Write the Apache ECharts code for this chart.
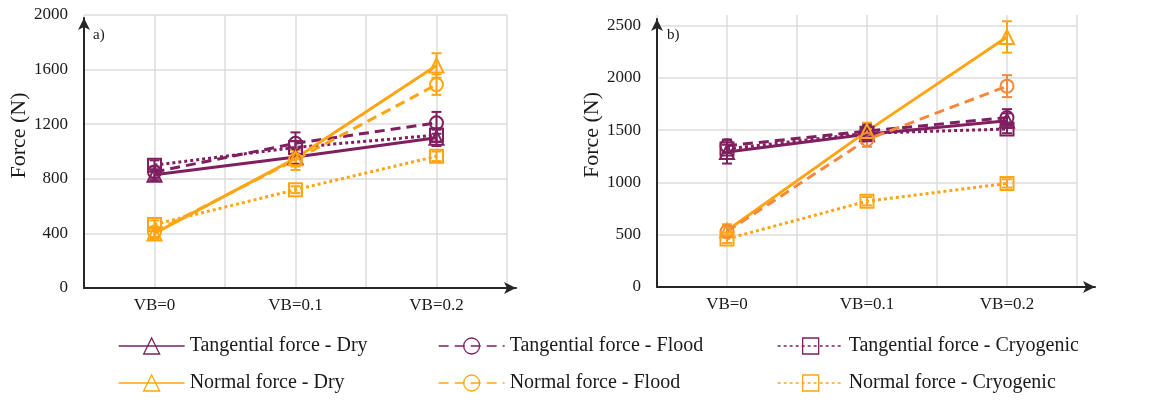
<!DOCTYPE html>
<html>
<head>
<meta charset="utf-8">
<script src="https://cdn.jsdelivr.net/npm/echarts@6/dist/echarts.min.js"></script>
<style>
  html, body { margin: 0; padding: 0; background: #fff; }
  #chart { width: 1162px; height: 401px; }
</style>
</head>
<body>
<div id="chart"></div>
<script>
// Flank-wear stages shown on the horizontal axis
const categories = ['VB=0', 'VB=0.1', 'VB=0.2'];

// Panel a) mean forces (N) and their standard deviations
const tDryA = [830, 960, 1100],   tDryErrA = [40, 50, 60];
const tFloodA = [850, 1060, 1210], tFloodErrA = [40, 80, 80];
const tCryoA = [900, 1030, 1120], tCryoErrA = [35, 45, 50];
const nDryA = [400, 950, 1630],   nDryErrA = [40, 60, 90];
const nFloodA = [410, 940, 1490], nFloodErrA = [35, 75, 75];
const nCryoA = [465, 720, 965],   nCryoErrA = [30, 25, 35];

// Panel b) mean forces (N) and their standard deviations
const tDryB = [1290, 1460, 1590],  tDryErrB = [110, 60, 70];
const tFloodB = [1350, 1490, 1620], tFloodErrB = [60, 70, 80];
const tCryoB = [1320, 1470, 1510], tCryoErrB = [40, 40, 40];
const nDryB = [540, 1490, 2390],   nDryErrB = [60, 80, 150];
const nFloodB = [530, 1410, 1920], nFloodErrB = [50, 70, 105];
const nCryoB = [460, 820, 990],    nCryoErrB = [40, 40, 40];

// Y-axis tick settings per panel
const yTicksA = { min: 0, max: 2000, interval: 400 };
const yTicksB = { min: 0, max: 2600, interval: 500, lastLabel: 2500 };

const PURPLE = '#7f1f5f';
const ORANGE = '#ffa514';
const ORANGE_FLOOD_B = '#f5893b';
const FONT = "'Liberation Serif', 'Times New Roman', serif";
const GRID_COLOR = '#dcdcdc';
const AXIS_COLOR = '#262626';

const DASH = [10, 6];
const DOT = [3, 3];

const names = {
  tDry: 'Tangential force - Dry',
  tFlood: 'Tangential force - Flood',
  tCryo: 'Tangential force - Cryogenic',
  nDry: 'Normal force - Dry',
  nFlood: 'Normal force - Flood',
  nCryo: 'Normal force - Cryogenic'
};

function toPoints(values) {
  return values.map((v, i) => [i, v]);
}
function toErrors(values, errs) {
  return values.map((v, i) => [i, v, errs[i]]);
}

function lineSeries(name, values, gridAxis, color, symbol, dash) {
  return {
    name: name,
    type: 'line',
    xAxisIndex: gridAxis,
    yAxisIndex: gridAxis,
    data: toPoints(values),
    symbol: symbol,
    symbolSize: symbol === 'triangle' ? [14, 14] : 13,
    showAllSymbol: true,
    lineStyle: { color: color, width: 3, type: dash || 'solid', cap: 'butt' },
    itemStyle: { color: 'rgba(0,0,0,0)', borderColor: color, borderWidth: 2 },
    emphasis: { disabled: true },
    z: 3
  };
}

function errorSeries(name, values, errs, gridAxis, color) {
  return {
    name: name,
    type: 'custom',
    xAxisIndex: gridAxis,
    yAxisIndex: gridAxis,
    data: toErrors(values, errs),
    z: 2,
    silent: true,
    renderItem: function (params, api) {
      const x = api.value(0), y = api.value(1), e = api.value(2);
      const hi = api.coord([x, y + e]);
      const lo = api.coord([x, y - e]);
      const half = 5;
      const style = { stroke: color, lineWidth: 2, fill: null };
      return {
        type: 'group',
        children: [
          { type: 'line', shape: { x1: hi[0], y1: hi[1], x2: lo[0], y2: lo[1] }, style: style },
          { type: 'line', shape: { x1: hi[0] - half, y1: hi[1], x2: hi[0] + half, y2: hi[1] }, style: style },
          { type: 'line', shape: { x1: lo[0] - half, y1: lo[1], x2: lo[0] + half, y2: lo[1] }, style: style }
        ]
      };
    }
  };
}

function panelSeries(gridAxis, d, floodOrange) {
  const list = [
    [names.tDry, d.tDry, d.tDryErr, PURPLE, 'triangle', null],
    [names.tFlood, d.tFlood, d.tFloodErr, PURPLE, 'circle', DASH],
    [names.tCryo, d.tCryo, d.tCryoErr, PURPLE, 'rect', DOT],
    [names.nDry, d.nDry, d.nDryErr, ORANGE, 'triangle', null],
    [names.nFlood, d.nFlood, d.nFloodErr, floodOrange, 'circle', DASH],
    [names.nCryo, d.nCryo, d.nCryoErr, ORANGE, 'rect', DOT]
  ];
  const lines = list.map(s => lineSeries(s[0], s[1], gridAxis, s[3], s[4], s[5]));
  const bars = list.map(s => errorSeries(s[0], s[1], s[2], gridAxis, s[3]));
  return { lines: lines, bars: bars };
}

const seriesA = panelSeries(0, {
  tDry: tDryA, tDryErr: tDryErrA, tFlood: tFloodA, tFloodErr: tFloodErrA,
  tCryo: tCryoA, tCryoErr: tCryoErrA, nDry: nDryA, nDryErr: nDryErrA,
  nFlood: nFloodA, nFloodErr: nFloodErrA, nCryo: nCryoA, nCryoErr: nCryoErrA
}, ORANGE);
const seriesB = panelSeries(2, {
  tDry: tDryB, tDryErr: tDryErrB, tFlood: tFloodB, tFloodErr: tFloodErrB,
  tCryo: tCryoB, tCryoErr: tCryoErrB, nDry: nDryB, nDryErr: nDryErrB,
  nFlood: nFloodB, nFloodErr: nFloodErrB, nCryo: nCryoB, nCryoErr: nCryoErrB
}, ORANGE_FLOOD_B);

function categoryLabel(v) {
  const r = Math.round(v);
  if (Math.abs(v - r) < 1e-6 && r >= 0 && r < categories.length) return categories[r];
  return '';
}

// Data x-axis: categories at 0,1,2 with gridlines every half step
function dataXAxis(gridIndex) {
  return {
    type: 'value', gridIndex: gridIndex,
    min: -0.5, max: 2.5, interval: 0.5,
    axisLine: { show: false }, axisTick: { show: false },
    axisLabel: {
      formatter: categoryLabel, margin: 9,
      fontFamily: FONT, fontSize: 17, color: '#1a1a1a'
    },
    splitLine: { show: true, lineStyle: { color: GRID_COLOR, width: 1.5 } }
  };
}

function dataYAxis(gridIndex, ticks) {
  const count = Math.floor((ticks.max - ticks.min) / ticks.interval) + 2;
  const colors = [];
  for (let i = 0; i < count; i++) {
    const v = ticks.min + i * ticks.interval;
    colors.push(v <= ticks.max && (!ticks.lastLabel || v <= ticks.lastLabel) ? GRID_COLOR : 'rgba(0,0,0,0)');
  }
  return {
    type: 'value', gridIndex: gridIndex,
    min: ticks.min, max: ticks.max, interval: ticks.interval,
    name: 'Force (N)', nameLocation: 'middle', nameGap: 50,
    nameTextStyle: { fontFamily: FONT, fontSize: 22, color: '#1a1a1a', padding: [0, 0, 0, 32] },
    axisLine: { show: false }, axisTick: { show: false },
    axisLabel: {
      margin: 16, fontFamily: FONT, fontSize: 17, color: '#1a1a1a',
      formatter: function (v) {
        if (ticks.lastLabel && v > ticks.lastLabel) return '';
        return String(v);
      }
    },
    splitLine: { show: true, lineStyle: { color: colors, width: 1.5 } }
  };
}

// Frame axes carry only the arrowed axis lines
function frameAxis(gridIndex) {
  return {
    type: 'value', gridIndex: gridIndex, min: 0, max: 1,
    axisLine: {
      show: true, onZero: false,
      symbol: ['none', 'arrow'], symbolSize: [9, 12],
      lineStyle: { color: AXIS_COLOR, width: 2 }
    },
    axisTick: { show: false }, axisLabel: { show: false }, splitLine: { show: false }
  };
}

// One legend entry, placed at its own column and row
function legendEntry(name, left, top) {
  return {
    orient: 'horizontal', left: left, top: top,
    data: [name], itemWidth: 66, itemHeight: 20,
    selectedMode: false,
    textStyle: { fontFamily: FONT, fontSize: 20, color: '#1a1a1a', lineHeight: 20 },
    lineStyle: { width: 1.3 },
    itemStyle: { borderWidth: 1.3 }
  };
}

const ROW1 = 331, ROW2 = 368;

const option = {
  animation: false,
  backgroundColor: '#ffffff',
  title: [
    { text: 'a)', left: 88, top: 23, textStyle: { fontFamily: FONT, fontSize: 15, fontWeight: 'normal', color: '#1a1a1a' } },
    { text: 'b)', left: 662, top: 23, textStyle: { fontFamily: FONT, fontSize: 15, fontWeight: 'normal', color: '#1a1a1a' } }
  ],
  grid: [
    { left: 84, top: 15, width: 423, height: 273 },
    { left: 84, top: 18, width: 432, height: 270 },
    { left: 657, top: 15, width: 420, height: 272 },
    { left: 657, top: 19, width: 438, height: 268 }
  ],
  xAxis: [dataXAxis(0), frameAxis(1), dataXAxis(2), frameAxis(3)],
  yAxis: [dataYAxis(0, yTicksA), frameAxis(1), dataYAxis(2, yTicksB), frameAxis(3)],
  legend: [
    legendEntry(names.tDry, 113, ROW1),
    legendEntry(names.nDry, 113, ROW2),
    legendEntry(names.tFlood, 433, ROW1),
    legendEntry(names.nFlood, 433, ROW2),
    legendEntry(names.tCryo, 772, ROW1),
    legendEntry(names.nCryo, 772, ROW2)
  ],
  series: [].concat(seriesA.lines, seriesB.lines, seriesA.bars, seriesB.bars)
};

const chart = echarts.init(document.getElementById('chart'), null, { renderer: 'canvas' });
chart.setOption(option);
</script>
</body>
</html>
